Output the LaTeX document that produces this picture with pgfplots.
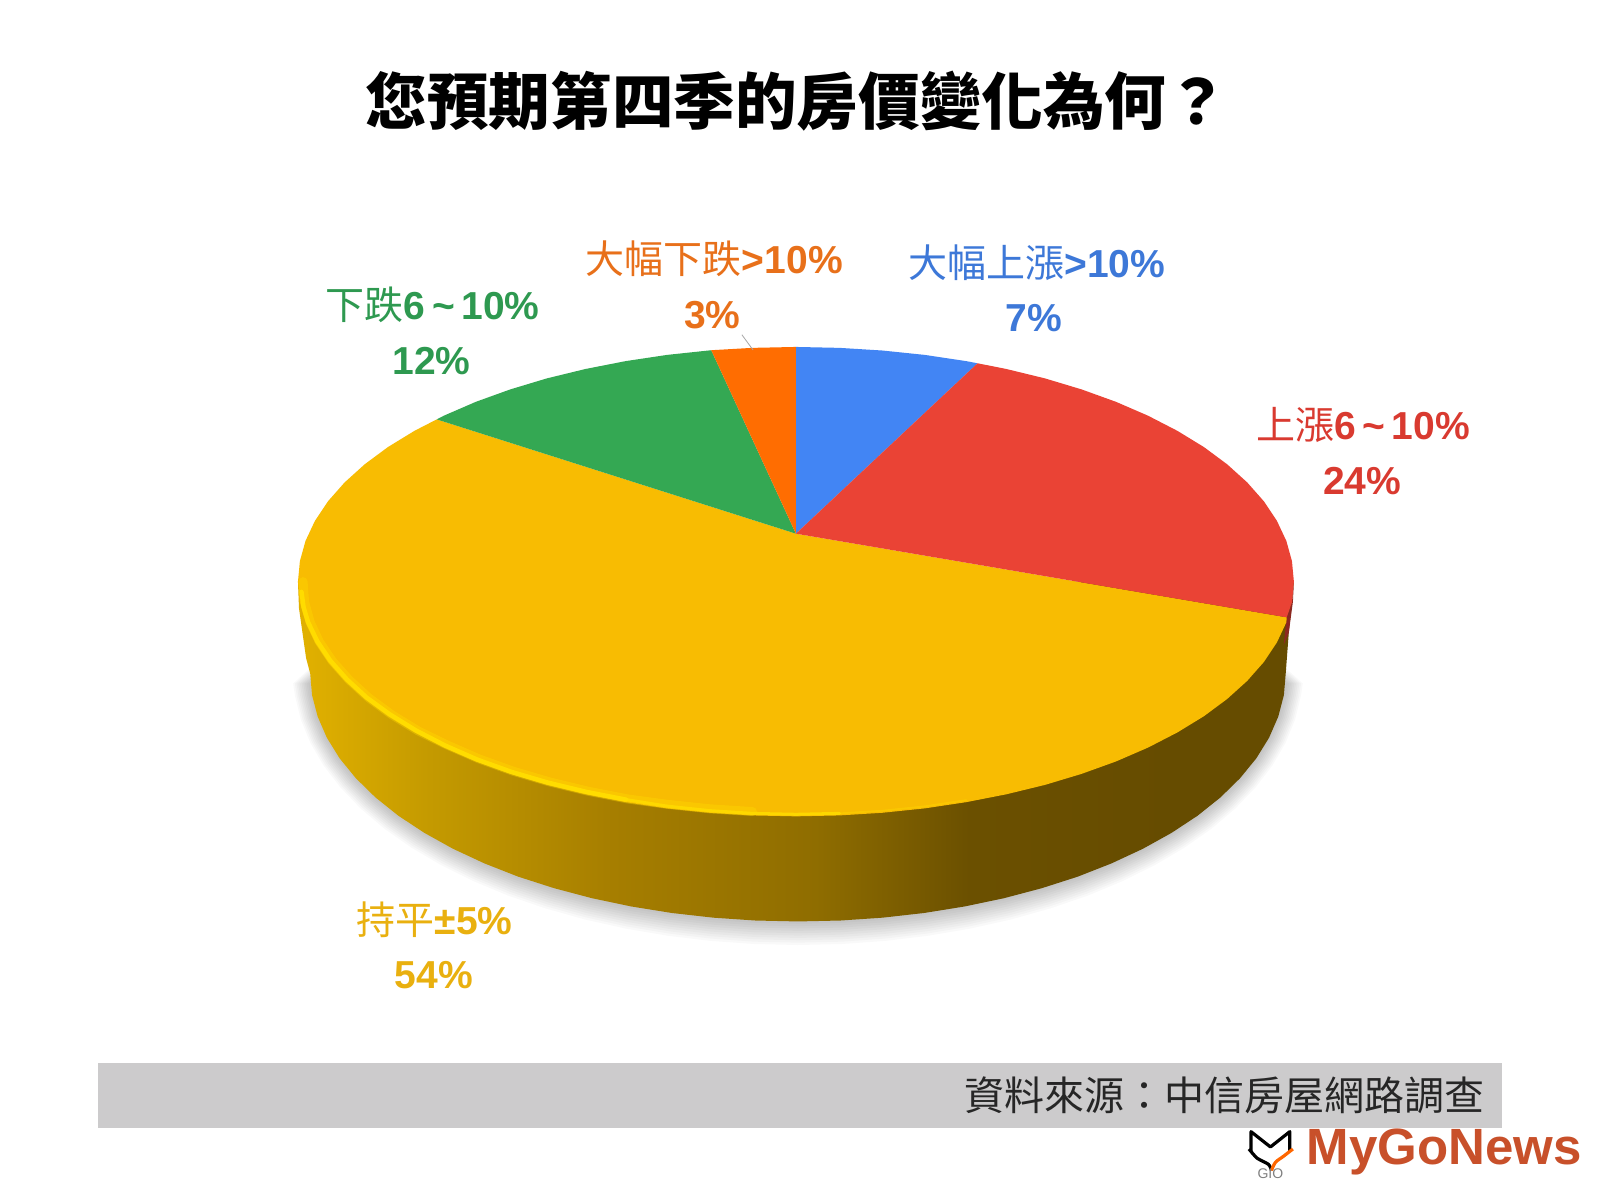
\documentclass[border=0pt]{standalone}
\usepackage{fontspec}
\setmainfont{Liberation Sans}
\newfontfamily\cjk{Noto Sans CJK TC}
\usepackage{pgfplots}
\usepackage{pgfplotstable}
\pgfplotsset{compat=1.18}
\definecolor{pblue}{HTML}{4285F4}
\definecolor{pred}{HTML}{EA4335}
\definecolor{pyellow}{HTML}{F8BC02}
\definecolor{pgreen}{HTML}{34A853}
\definecolor{porange}{HTML}{FF6D01}
\definecolor{tblue}{HTML}{3D78D8}
\definecolor{tred}{HTML}{D93A30}
\definecolor{tyellow}{HTML}{E9B00F}
\definecolor{tgreen}{HTML}{2E9950}
\definecolor{torange}{HTML}{E8701A}
\definecolor{band}{HTML}{CCCBCC}
\definecolor{logored}{HTML}{C8502A}
\definecolor{rim}{HTML}{FFDC00}
\definecolor{w1}{HTML}{E0B000}
\definecolor{w2}{HTML}{C49A00}
\definecolor{w3}{HTML}{A67E00}
\definecolor{w4}{HTML}{8F6D00}
\definecolor{w5}{HTML}{6B5000}
\definecolor{w6}{HTML}{664C00}
\pgfdeclarehorizontalshading{wallshade}{100bp}{color(0bp)=(w1);color(25.4bp)=(w1);color(31.6bp)=(w2);color(40.8bp)=(w3);color(51bp)=(w4);color(58.7bp)=(w5);color(69bp)=(w6);color(100bp)=(w6)}
% outer lower edge of the pie wall, in reference pixels (first and last row taper the shadow)
\pgfplotstableread{
x y
1225 640
1260 670
1258.2 681.2
1252.7 702.2
1243.7 722.9
1231.2 743.1
1215.2 762.7
1196 781.5
1173.6 799.4
1148.1 816.2
1120 831.8
1089.3 846.1
1056.2 859.1
1021 870.4
984 880.2
945.5 888.3
905.7 894.7
865 899.3
823.7 902.1
782 903
740.3 902.1
699 899.3
658.3 894.7
618.5 888.3
580 880.2
543 870.4
507.8 859.1
474.7 846.1
444 831.8
415.9 816.2
390.4 799.4
368 781.5
348.8 762.7
332.8 743.1
320.3 722.9
311.3 702.2
305.8 681.2
304 670
339 640
}\wallbase
\newcommand{\lbl}[3]{\node[text=#1,font=\fontsize{19.5}{20}\selectfont,anchor=center,inner sep=0pt] at (axis cs:#2) {#3};}
\begin{document}
\begin{tikzpicture}
\begin{axis}[
  scale only axis,
  width=800pt,
  height=600pt,
  xmin=0,xmax=1568,
  ymin=0,ymax=1176,
  y dir=reverse,
  hide axis,
  clip=false,
]
% page background
\addplot[fill=white,draw=none] coordinates {(0,0) (1568,0) (1568,1176) (0,1176)} --cycle;
% soft shadow under the pie
\pgfplotsinvokeforeach{0.05,0.045,0.04,0.035,0.03,0.025,0.02,0.015,0.01,0.005}{
  \addplot[fill=black,draw=none,fill opacity=0.025] table[x expr=782+(\thisrow{x}-782)*(1+0.7*#1),y expr=672+(\thisrow{y}-672)*(1+2*#1)] {\wallbase} --cycle;
}
% wall
\addplot[shade,shading=wallshade,draw=none] coordinates {
(292,570) (293,596) (300,645) (304,660)
(305.8,681.2) (311.3,702.2) (320.3,722.9) (332.8,743.1) (348.8,762.7) (368,781.5) (390.4,799.4) (415.9,816.2) (444,831.8) (474.7,846.1) (507.8,859.1) (543,870.4) (580,880.2) (618.5,888.3) (658.3,894.7) (699,899.3) (740.3,902.1) (782,903)
(823.7,902.1) (865,899.3) (905.7,894.7) (945.5,888.3) (984,880.2) (1021,870.4) (1056.2,859.1) (1089.3,846.1) (1120,831.8) (1148.1,816.2) (1173.6,799.4) (1196,781.5) (1215.2,762.7) (1231.2,743.1) (1243.7,722.9) (1252.7,702.2) (1258.2,681.2) (1260,660)
(1263,620) (1268,570)
} --cycle;
% dark red piece of wall under the red slice
\addplot[fill=pred!60!black,draw=none] coordinates {(1268,570) (1266.1,590.1) (1261,605) (1258,632) (1263,620) (1267,590)} --cycle;
% slices, from the apex along the rim
\addplot[fill=pyellow,draw=none] coordinates {(780,523) (1261,605)
(1260.6,609.9) (1251.4,629.5) (1238.6,648.7) (1222.3,667.2) (1202.6,685) (1179.8,701.9) (1153.8,717.8) (1125.1,732.6) (1093.7,746.2) (1059.9,758.4) (1024,769.2) (986.2,778.4) (946.9,786.1) (906.3,792.2) (864.7,796.5) (822.6,799.1) (780,800)
(737.4,799.1) (695.3,796.5) (653.7,792.2) (613.1,786.1) (573.8,778.4) (536,769.2) (500.1,758.4) (466.3,746.2) (434.9,732.6) (406.2,717.8) (380.2,701.9) (357.4,685) (337.7,667.2) (321.4,648.7) (308.6,629.5) (299.4,609.9) (293.9,590.1) (292,570)
(293.9,549.9) (299.4,530.1) (308.6,510.5) (321.4,491.3) (337.7,472.8) (357.4,455) (380.2,438.1) (406.2,422.2) (428,411)} --cycle;
\addplot[fill=pblue,draw=none] coordinates {(780,523) (780,340) (822.6,340.9) (864.7,343.5) (906.3,347.8) (946.9,353.9) (958,356)} --cycle;
\addplot[fill=pred,draw=none] coordinates {(780,523) (958,356) (986.2,361.6) (1024,370.8) (1059.9,381.6) (1093.7,393.8) (1125.1,407.4) (1153.8,422.2) (1179.8,438.1) (1202.6,455) (1222.3,472.8) (1238.6,491.3) (1251.4,510.5) (1260.6,530.1) (1266.1,549.9) (1268,570) (1266.1,590.1) (1261,605)} --cycle;
\addplot[fill=pgreen,draw=none] coordinates {(780,523) (428,411) (434.9,407.4) (466.3,393.8) (500.1,381.6) (536,370.8) (573.8,361.6) (613.1,353.9) (653.7,347.8) (697,343.2)} --cycle;
\addplot[fill=porange,draw=none] coordinates {(780,523) (697,343.2) (737.4,340.9) (780,340)} --cycle;
% bright bevel along the front rim, a wide faint stroke under a narrow one
\addplot[draw=rim,line width=4.5pt,line join=round,line cap=round,opacity=0.35] coordinates {(297,570) (298.5,590.1) (304,609.9) (313,629) (325.8,648) (342,666.2) (361.5,684) (384,700.5) (410,716.4) (438,730) (469.4,743.7) (503,755.8) (538.7,766.3) (576.4,775.4) (615.5,783) (653.9,788.2) (695.4,792.6) (737.4,795.3)};
\addplot[draw=rim,line width=2.2pt,line join=round,line cap=round] coordinates {(295.5,580) (297.5,595) (302,609.9) (311,628.5) (323.8,647.5) (340,665.8) (359.4,683.6) (382,700) (408,716) (436.3,730.6) (467.6,744.3) (501.2,756.4) (536.9,766.9) (574.6,776) (613.5,783.6)};
\addplot[draw=rim,line width=1.5pt,line cap=round,opacity=0.85] coordinates {(613.5,783.6) (653.9,790) (695.4,794.4) (737.4,797.1) (780,798) (822.6,797.1)};
\addplot[draw=rim,line width=0.9pt,opacity=0.35,line cap=round] coordinates {(822.6,797.1) (864.7,794.5) (906.3,790.2) (946.9,784.1)};
% leader of the 3% label
\addplot[draw=gray!70,line width=0.4pt] coordinates {(727,328) (738,343)};
% title
\node[font=\fontsize{30.8}{31}\selectfont\cjk\bfseries,text=black,inner sep=0pt] at (axis cs:781,99) {您預期第四季的房價變化為何？};
% slice labels
\lbl{tblue}{1016,257}{{\cjk 大幅上漲}\textbf{>10\%}}
\lbl{tblue}{1013,312}{\textbf{7\%}}
\lbl{torange}{700,254}{{\cjk 大幅下跌}\textbf{>10\%}}
\lbl{torange}{698,309}{\textbf{3\%}}
\lbl{tgreen}{424,299}{{\cjk 下跌}\textbf{6\,\textasciitilde\,10\%}}
\lbl{tgreen}{423,354}{\textbf{12\%}}
\lbl{tred}{1336,416}{{\cjk 上漲}\textbf{6\,\textasciitilde\,10\%}}
\lbl{tred}{1335,471}{\textbf{24\%}}
\lbl{tyellow}{426,901}{{\cjk 持平}\textbf{±5\%}}
\lbl{tyellow}{425,956}{\textbf{54\%}}
% source band
\addplot[fill=band,draw=none] coordinates {(96,1042) (1472,1042) (1472,1105) (96,1105)} --cycle;
\node[font=\fontsize{20}{20}\selectfont\cjk,text=black!85,anchor=east,inner sep=0pt] at (axis cs:1455,1073) {資料來源：中信房屋網路調查};
% logo
\addplot[draw=black,line width=1.6pt,line join=round] coordinates {(1226,1128) (1226,1109) (1245,1124) (1264,1109) (1264,1128)};
\addplot[draw=black,line width=1.6pt,smooth] coordinates {(1224,1126) (1232,1135) (1243,1141) (1246,1147)};
\addplot[draw=orange!80!red,line width=1.6pt,smooth] coordinates {(1267,1126) (1258,1133) (1250,1139) (1246,1147)};
\node[font=\fontsize{7}{7}\selectfont,text=gray,inner sep=0pt] at (axis cs:1245,1150) {GIO};
\node[font=\fontsize{25.5}{25.5}\selectfont\bfseries,text=logored,anchor=west,inner sep=0pt] at (axis cs:1280,1129) {MyGoNews};
\end{axis}
\end{tikzpicture}
\end{document}
